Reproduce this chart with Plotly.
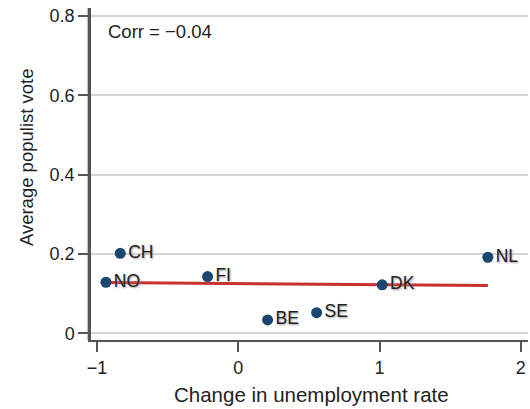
import numpy as np
import plotly.graph_objects as go

countries = ["CH", "NO", "FI", "BE", "SE", "DK", "NL"]
unemp_change = [-0.835, -0.936, -0.217, 0.208, 0.555, 1.019, 1.767]
populist_vote = [0.2015, 0.1286, 0.143, 0.0336, 0.052, 0.122, 0.1916]
corr_label = "Corr = \u22120.04"

xs = np.array(unemp_change)
ys = np.array(populist_vote)
slope, intercept = np.polyfit(xs, ys, 1)
fit_x = [xs.min(), xs.max()]
fit_y = [intercept + slope * v for v in fit_x]

FONT = "Liberation Sans, Arial, Helvetica, sans-serif"
TXT = "#222222"

fig = go.Figure()
fig.add_trace(go.Scatter(
    x=fit_x, y=fit_y, mode="lines",
    line=dict(color="#c8322d", width=3),
    hoverinfo="skip", showlegend=False,
))
fig.add_trace(go.Scatter(
    x=unemp_change, y=populist_vote, mode="markers+text",
    text=countries, textposition="middle right",
    textfont=dict(family=FONT, size=17.5, color=TXT, shadow="1px 1px 2px #9a9a9a"),
    marker=dict(color="#1a476f", size=11),
    showlegend=False,
))

fig.update_layout(
    width=530, height=409,
    margin=dict(l=91, r=2, t=8, b=69),
    paper_bgcolor="white", plot_bgcolor="white",
    font=dict(family=FONT, color=TXT),
    xaxis=dict(
        range=[-1.042, 2.051], tickvals=[-1, 0, 1, 2],
        showgrid=False, zeroline=False,
        showline=True, linecolor="#555555", linewidth=2,
        ticks="outside", ticklen=10, tickwidth=1.5, tickcolor="#555555",
        tickfont=dict(size=18, color=TXT),
    ),
    yaxis=dict(
        range=[-0.017, 0.82], tickvals=[0, 0.2, 0.4, 0.6, 0.8],
        showgrid=True, gridcolor="#d4d4d4", gridwidth=1.5, zeroline=False,
        showline=True, linecolor="#555555", linewidth=2.5,
        ticks="outside", ticklen=10, tickwidth=1.5, tickcolor="#555555",
        tickfont=dict(size=18, color=TXT),
    ),
    shapes=[
        dict(type="line", xref="paper", yref="paper", x0=-0.0075, x1=-0.0075,
             y0=0, y1=1, line=dict(color="#c8c8c8", width=2), layer="below"),
    ],
    annotations=[
        dict(text="Average populist vote", xref="paper", yref="paper",
             x=-0.1487, y=0.551, xanchor="center", yanchor="middle",
             textangle=-90, showarrow=False, font=dict(size=18.5, color=TXT)),
        dict(text="Change in unemployment rate", xref="paper", yref="paper",
             x=0.5057, y=-0.1627, xanchor="center", yanchor="middle",
             showarrow=False, font=dict(size=20.5, color=TXT)),
        dict(text=corr_label, xref="paper", yref="paper",
             x=0.0343, y=0.9286, xanchor="left", yanchor="middle",
             showarrow=False, font=dict(size=18.5, color=TXT)),
    ],
)

fig.write_html("out.html", config={"displayModeBar": False},
               post_script="document.body.style.margin='0';document.body.style.overflow='hidden';")
